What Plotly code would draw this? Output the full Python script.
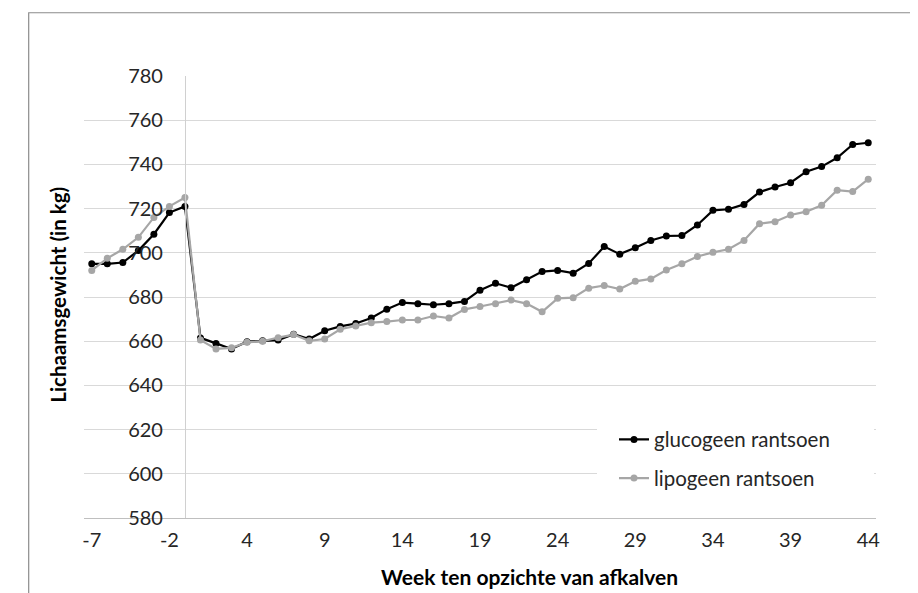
import plotly.graph_objects as go

weeks = [-7, -6, -5, -4, -3, -2, -1] + list(range(1, 45))
week_labels = [str(w) for w in weeks]

glucogeen = [695, 695, 695.6, 701, 708.4, 718.2, 721,
             661.5, 659, 656.5, 659.8, 660.2, 660.5, 663.2, 661, 664.7, 666.7,
             668, 670.5, 674.5, 677.5, 677, 676.5, 677, 678, 683.1, 686.2,
             684.2, 687.8, 691.5, 692, 690.8, 695.2, 702.8, 699.4, 702.3, 705.6,
             707.6, 707.8, 712.6, 719.2, 719.7, 721.9, 727.5, 729.8, 731.7, 736.7,
             739, 743, 749, 749.8]

lipogeen = [692, 697.5, 701.6, 707, 716, 721, 725,
            660.5, 656.5, 657, 659.5, 660, 661.6, 663, 660.2, 661, 665.4,
            666.9, 668.4, 668.9, 669.6, 669.6, 671.4, 670.5, 674.4, 675.7, 677,
            678.6, 677, 673.3, 679.4, 679.7, 684, 685.2, 683.6, 687.1, 688.2,
            692.2, 695, 698.3, 700.2, 701.6, 705.6, 713.2, 714.1, 717.1, 718.6,
            721.5, 728.3, 727.7, 733.3]

tick_weeks = week_labels[::5]
y_ticks = list(range(580, 781, 20))

FONT = "Lato"
W, H = 918, 593
L, R, T, B = 76, 50, 68, 82.5
pw, ph = W - L - R, H - T - B

def px_x(p):
    return (p - L) / pw

def px_y(p):
    return (H - B - p) / ph

fig = go.Figure()
fig.add_trace(go.Scatter(
    x=week_labels, y=glucogeen, name="glucogeen rantsoen", mode="lines+markers",
    line=dict(color="#000000", width=2.2), marker=dict(color="#000000", size=7),
    legendgroup="a"))
fig.add_trace(go.Scatter(
    x=week_labels, y=lipogeen, name="lipogeen rantsoen", mode="lines+markers",
    line=dict(color="#a6a6a6", width=2.2), marker=dict(color="#a6a6a6", size=7),
    legendgroup="b"))

fig.update_layout(
    width=W, height=H,
    margin=dict(l=L, r=R, t=T, b=B, autoexpand=False),
    paper_bgcolor="white", plot_bgcolor="white",
    font=dict(family=FONT, size=20, color="#262626"),
    showlegend=True,
    legend=dict(x=px_x(606), y=px_y(412), xanchor="left", yanchor="top",
                bgcolor="rgba(0,0,0,0)", font=dict(size=20.5, color="#262626"),
                tracegroupgap=9, itemwidth=30),
    xaxis=dict(type="category", categoryorder="array", categoryarray=week_labels,
               range=[-0.5, len(weeks) - 0.5],
               tickmode="array", tickvals=tick_weeks, ticktext=tick_weeks,
               showgrid=False, zeroline=False, showline=True,
               linecolor="#bfbfbf", linewidth=1, ticks="",
               ticklabelstandoff=4, tickfont=dict(size=20)),
    yaxis=dict(range=[580, 780], tickvals=y_ticks, showgrid=True,
               gridcolor="#d9d9d9", gridwidth=1, zeroline=False,
               anchor="free", position=6.5 / 51, showline=True,
               linecolor="#d0d0d0", linewidth=1, ticks="",
               ticklabelstandoff=18, tickfont=dict(size=20)),
    annotations=[
        dict(text="<b>Week ten opzichte van afkalven</b>", xref="paper", yref="paper",
             x=px_x(521), y=px_y(569), xanchor="center", yanchor="middle",
             showarrow=False, font=dict(size=21, color="#000000")),
        dict(text="<b>Lichaamsgewicht (in kg)</b>", xref="paper", yref="paper",
             x=px_x(50), y=px_y(287), xanchor="center", yanchor="middle",
             textangle=-90, showarrow=False, font=dict(size=20.5, color="#000000")),
    ],
    shapes=[
        dict(type="rect", xref="paper", yref="paper",
             x0=px_x(589), x1=px_x(866), y0=px_y(500), y1=px_y(395),
             fillcolor="white", line=dict(width=0), layer="above"),
        dict(type="rect", xref="paper", yref="paper",
             x0=px_x(20.7), x1=px_x(925), y0=px_y(600), y1=px_y(4.7),
             fillcolor="rgba(0,0,0,0)", line=dict(color="#8c8c8c", width=1.2),
             layer="above"),
    ],
)

fig.write_html("out.html")
